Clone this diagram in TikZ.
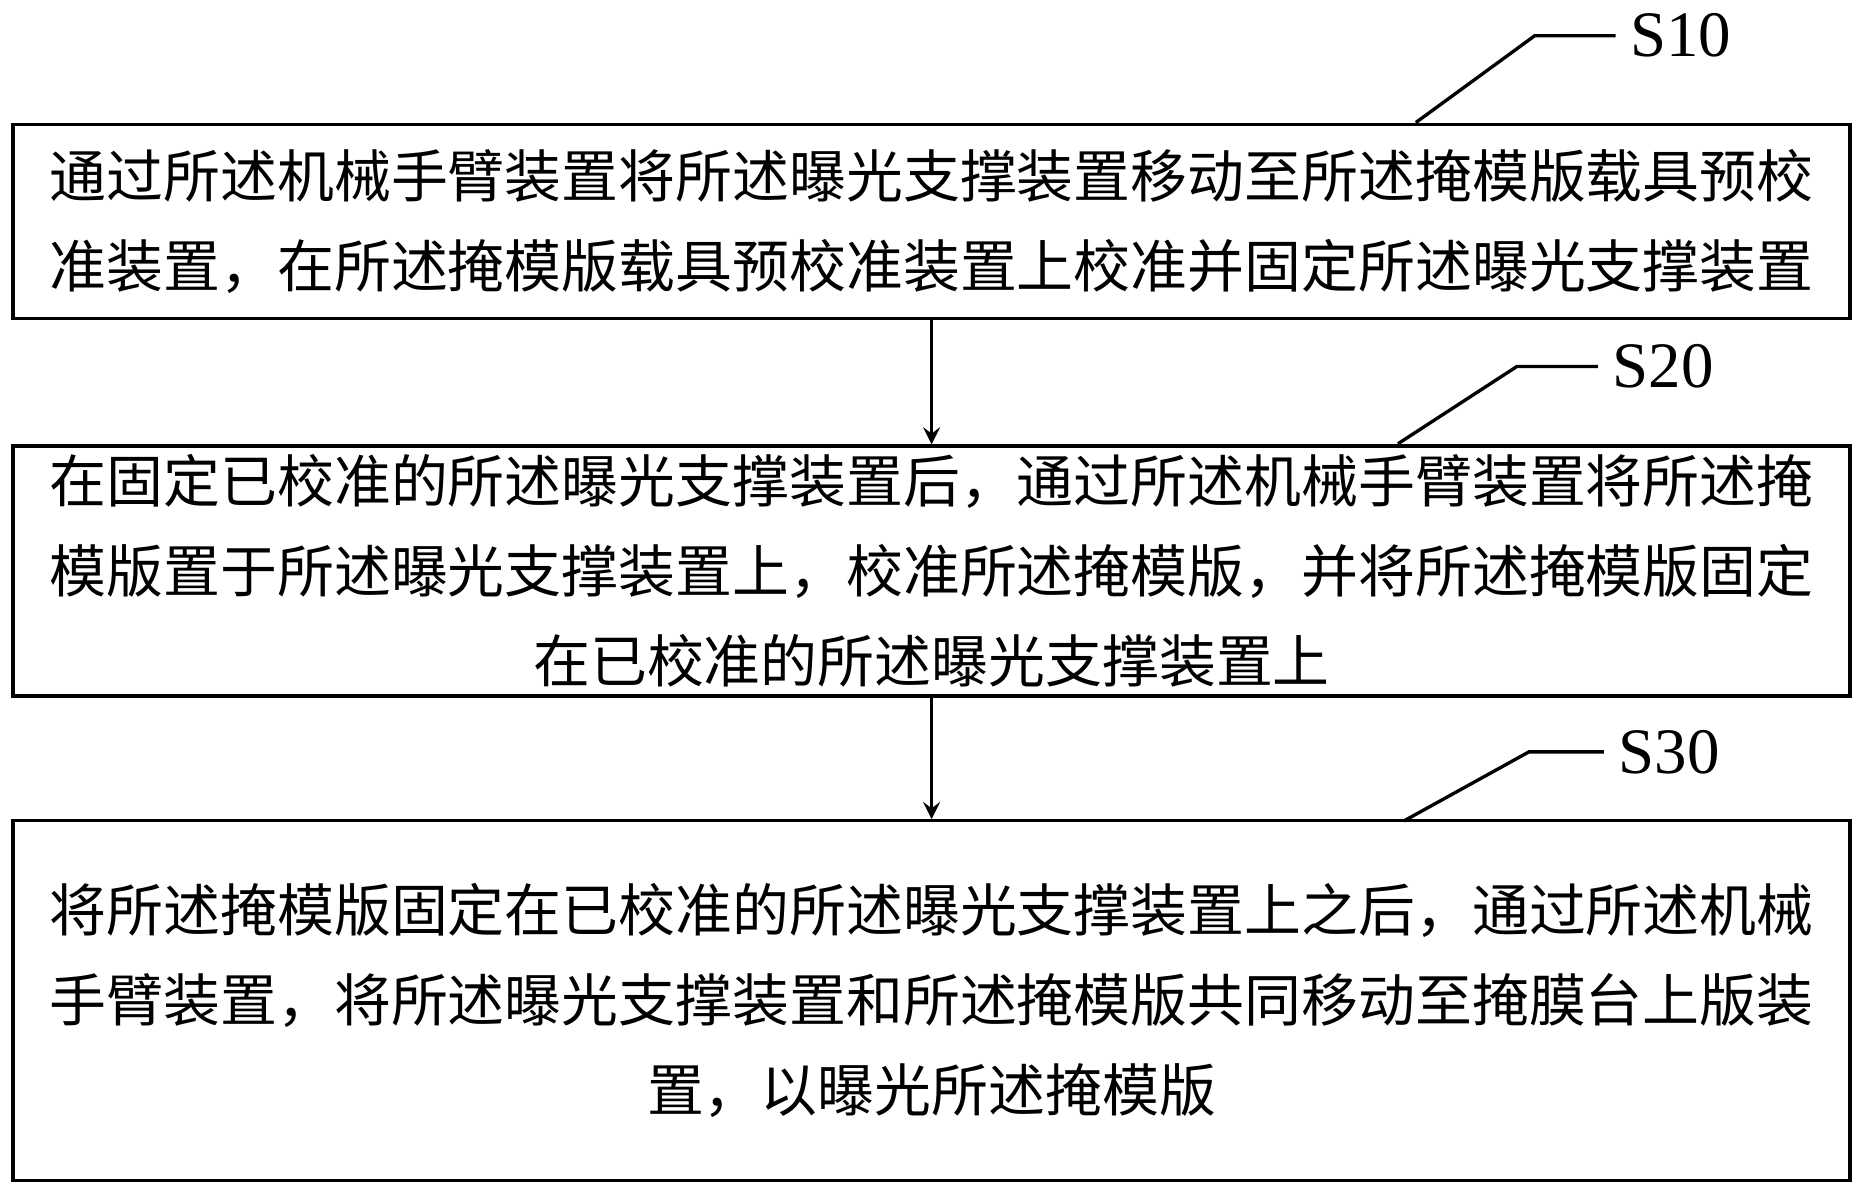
\documentclass[tikz,border=0pt]{standalone}
\usepackage{fontspec}
\newfontfamily\cjk{Noto Sans CJK SC}
\setmainfont{Liberation Serif}
\usetikzlibrary{positioning}

\begin{document}
\begin{tikzpicture}[
    x=0.01cm, y=-0.01cm,
    stepbox/.style = {draw, line width=0.8pt, minimum width=15.43cm,
      align=center, font=\cjk\fontsize{13.6pt}{21.5pt}\selectfont,
      inner sep=0pt},
    leader/.style = {draw, line width=0.8pt},
    tag/.style = {font=\fontsize{15.5pt}{15.5pt}\selectfont, anchor=west},
    arrow/.style = {->, >=stealth, line width=0.8pt}
  ]
  \useasboundingbox (0,0) rectangle (1565,1004);
  \node (s10box) [stepbox, minimum height=1.63cm] at (783,186)
    {通过所述机械手臂装置将所述曝光支撑装置移动至所述掩模版载具预校\\
     准装置，在所述掩模版载具预校准装置上校准并固定所述曝光支撑装置};
  \node (s20box) [stepbox, minimum height=2.10cm] at (783,480)
    {在固定已校准的所述曝光支撑装置后，通过所述机械手臂装置将所述掩\\
     模版置于所述曝光支撑装置上，校准所述掩模版，并将所述掩模版固定\\
     在已校准的所述曝光支撑装置上};
  \node (s30box) [stepbox, minimum height=3.02cm] at (783,841)
    {将所述掩模版固定在已校准的所述曝光支撑装置上之后，通过所述机械\\
     手臂装置，将所述曝光支撑装置和所述掩模版共同移动至掩膜台上版装\\
     置，以曝光所述掩模版};

  \draw [arrow] (s10box) -- (s20box);
  \draw [arrow] (s20box) -- (s30box);

  % step labels
  \node (s10) [tag] at (1358,30) {S10};
  \node (s20) [tag] at (1343,308) {S20};
  \node (s30) [tag] at (1348,632) {S30};
  \draw [leader] (1190,103) -- (1290,30) -- (s10.west);
  \draw [leader] (1175,373) -- (1275,308) -- (s20.west);
  \draw [leader] (1180,690) -- (1285,632) -- (s30.west);
\end{tikzpicture}
\end{document}
